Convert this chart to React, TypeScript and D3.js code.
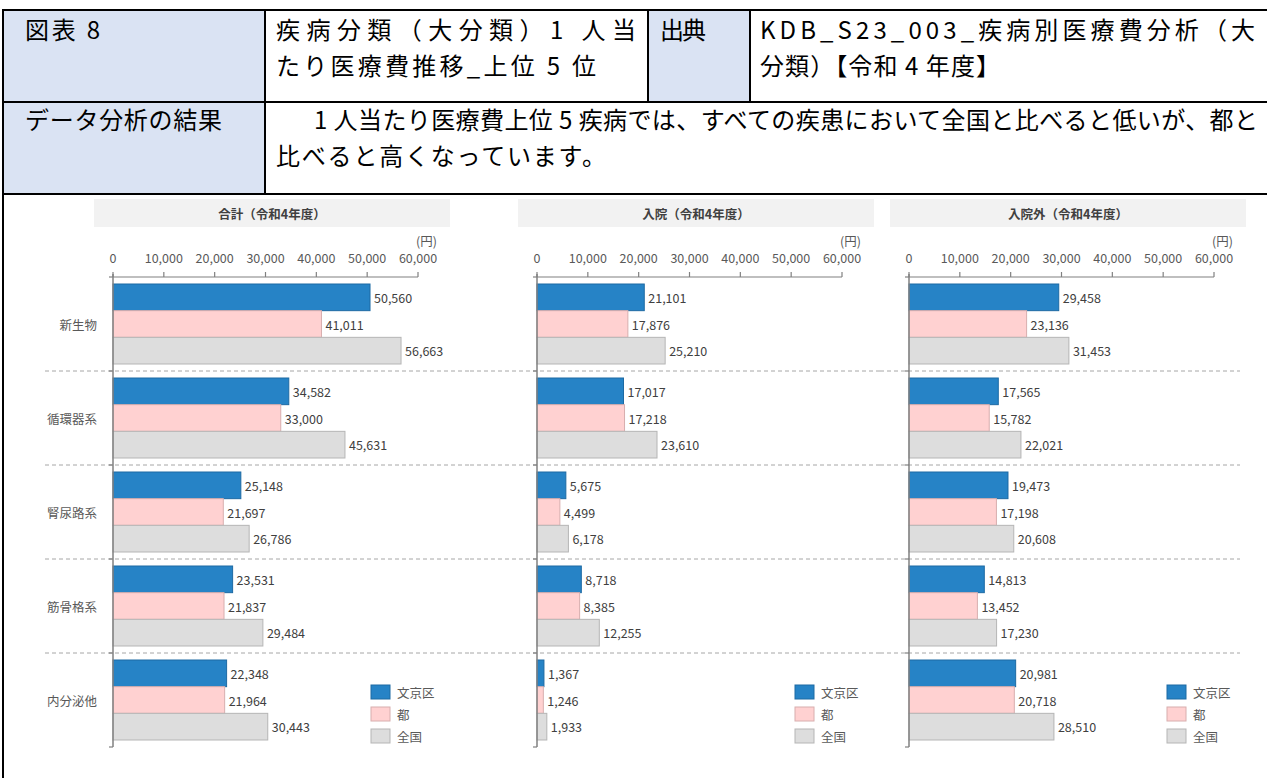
import React from 'react';
import * as d3 from 'd3';

// categories and series
const categories = ['新生物', '循環器系', '腎尿路系', '筋骨格系', '内分泌他'];
const seriesNames = ['文京区', '都', '全国'];
const seriesFill = ['#2683c6', '#ffd1d1', '#dddddd'];
const seriesStroke = ['#1d6aa3', '#d8aeae', '#b5b5b5'];

// 合計
const totalBunkyo = [50560, 34582, 25148, 23531, 22348];
const totalTokyo = [41011, 33000, 21697, 21837, 21964];
const totalNational = [56663, 45631, 26786, 29484, 30443];
// 入院
const inpatientBunkyo = [21101, 17017, 5675, 8718, 1367];
const inpatientTokyo = [17876, 17218, 4499, 8385, 1246];
const inpatientNational = [25210, 23610, 6178, 12255, 1933];
// 入院外
const outpatientBunkyo = [29458, 17565, 19473, 14813, 20981];
const outpatientTokyo = [23136, 15782, 17198, 13452, 20718];
const outpatientNational = [31453, 22021, 20608, 17230, 28510];

const xTicks = [0, 10000, 20000, 30000, 40000, 50000, 60000];

const panels = [
  { title: '合計（令和4年度）', x0: 113, showCats: true, values: [totalBunkyo, totalTokyo, totalNational] },
  { title: '入院（令和4年度）', x0: 537, showCats: false, values: [inpatientBunkyo, inpatientTokyo, inpatientNational] },
  { title: '入院外（令和4年度）', x0: 909, showCats: false, values: [outpatientBunkyo, outpatientTokyo, outpatientNational] },
];

const FONT = '"Noto Sans CJK JP", "Noto Sans", sans-serif';
const fmt = d3.format(',');

const axisY = 277;
const bottomY = 747;
const plotW = 305;

const Panel = ({ p, dashFrom, dashTo }) => {
  const x = d3.scaleLinear().domain([0, 60000]).range([p.x0, p.x0 + plotW]);
  const y = d3.scaleBand().domain(categories).range([axisY, bottomY]);
  const inner = d3.scaleBand().domain(seriesNames).range([7, y.bandwidth() - 7]);

  return (
    <g>
      <rect x={p.x0 - 19} y={199} width={356} height={28} fill="#f2f2f2" />
      <text x={p.x0 + 159} y={213} textAnchor="middle" dominantBaseline="central"
        fontSize={12.5} fontWeight="bold" fill="#404040">{p.title}</text>
      <text x={x(60000) + 19} y={240} textAnchor="end" dominantBaseline="central"
        fontSize={12.5} fill="#595959">(円)</text>

      {/* category separators */}
      {categories.slice(0, -1).map((c) => (
        <line key={c} x1={dashFrom} x2={dashTo} y1={y(c) + y.bandwidth()} y2={y(c) + y.bandwidth()}
          stroke="#a6a6a6" strokeDasharray="4,3" strokeWidth={1} />
      ))}

      {/* bars */}
      {categories.map((c, ci) => (
        <g key={c} transform={`translate(0,${y(c)})`}>
          {seriesNames.map((s, si) => {
            const v = p.values[si][ci];
            return (
              <g key={s}>
                <rect x={x(0)} y={inner(s)} width={x(v) - x(0)} height={inner.bandwidth()}
                  fill={seriesFill[si]} stroke={seriesStroke[si]} strokeWidth={1} />
                <text x={x(v) + 4} y={inner(s) + inner.bandwidth() / 2} dominantBaseline="central"
                  fontSize={12.5} fill="#404040">{fmt(v)}</text>
              </g>
            );
          })}
          {p.showCats && (
            <text x={97} y={y.bandwidth() / 2} textAnchor="end" dominantBaseline="central"
              fontSize={12.5} fill="#595959">{c}</text>
          )}
        </g>
      ))}

      {/* x axis on top */}
      <line x1={x(0)} x2={x(60000)} y1={axisY} y2={axisY} stroke="#808080" strokeWidth={1.2} />
      {xTicks.map((t) => (
        <g key={t}>
          <line x1={x(t)} x2={x(t)} y1={axisY} y2={axisY - 5} stroke="#808080" strokeWidth={1.2} />
          <text x={x(t)} y={257} textAnchor="middle" dominantBaseline="central" fontSize={12.5} fill="#595959">
            {fmt(t)}
          </text>
        </g>
      ))}

      {/* y axis */}
      <line x1={x(0)} x2={x(0)} y1={axisY - 3} y2={bottomY} stroke="#808080" strokeWidth={1.5} />
      {[axisY, ...categories.map((c) => y(c) + y.bandwidth())].map((ty, i) => (
        <line key={i} x1={x(0) - 4} x2={x(0)} y1={ty} y2={ty} stroke="#808080" strokeWidth={1.2} />
      ))}

      {/* legend */}
      {seriesNames.map((s, si) => (
        <g key={s} transform={`translate(${p.x0 + 258},${685 + si * 22})`}>
          <rect x={0} y={0} width={19} height={14} fill={seriesFill[si]} stroke={seriesStroke[si]} />
          <text x={26} y={7} dominantBaseline="central" fontSize={12.5} fill="#595959">{s}</text>
        </g>
      ))}
    </g>
  );
};

export default function App() {
  const border = '#000';
  return (
    <svg width={1267} height={778} style={{ position: 'absolute', left: 0, top: 0, background: '#fff' }}
      fontFamily={FONT}>
      {/* header table */}
      <rect x={3} y={10} width={262} height={184} fill="#dae3f3" />
      <rect x={648} y={10} width={102} height={92} fill="#dae3f3" />
      <g stroke={border} strokeWidth={2}>
        <line x1={3} x2={1267} y1={10} y2={10} />
        <line x1={3} x2={1267} y1={102} y2={102} />
        <line x1={3} x2={1267} y1={194} y2={194} />
        <line x1={3} x2={3} y1={9} y2={778} />
        <line x1={265} x2={265} y1={10} y2={194} />
        <line x1={648} x2={648} y1={10} y2={102} />
        <line x1={750} x2={750} y1={10} y2={102} />
      </g>
      <g fontSize={24} fill="#000">
        <text x={25} y={39} textLength={75}>図表 8</text>
        <text x={276} y={39} textLength={360}>疾病分類（大分類）1 人当</text>
        <text x={276} y={75} textLength={320}>たり医療費推移_上位 5 位</text>
        <text x={660} y={39} textLength={46}>出典</text>
        <text x={760} y={39} textLength={495}>KDB_S23_003_疾病別医療費分析（大</text>
        <text x={760} y={75} textLength={240}>分類）【令和 4 年度】</text>
        <text x={25} y={129} textLength={197}>データ分析の結果</text>
        <text x={314} y={129} textLength={944}>1 人当たり医療費上位 5 疾病では、すべての疾患において全国と比べると低いが、都と</text>
        <text x={276} y={165} textLength={330}>比べると高くなっています。</text>
      </g>

      <Panel p={panels[0]} dashFrom={45} dashTo={470} />
      <Panel p={panels[1]} dashFrom={470} dashTo={880} />
      <Panel p={panels[2]} dashFrom={880} dashTo={1240} />
    </svg>
  );
}
